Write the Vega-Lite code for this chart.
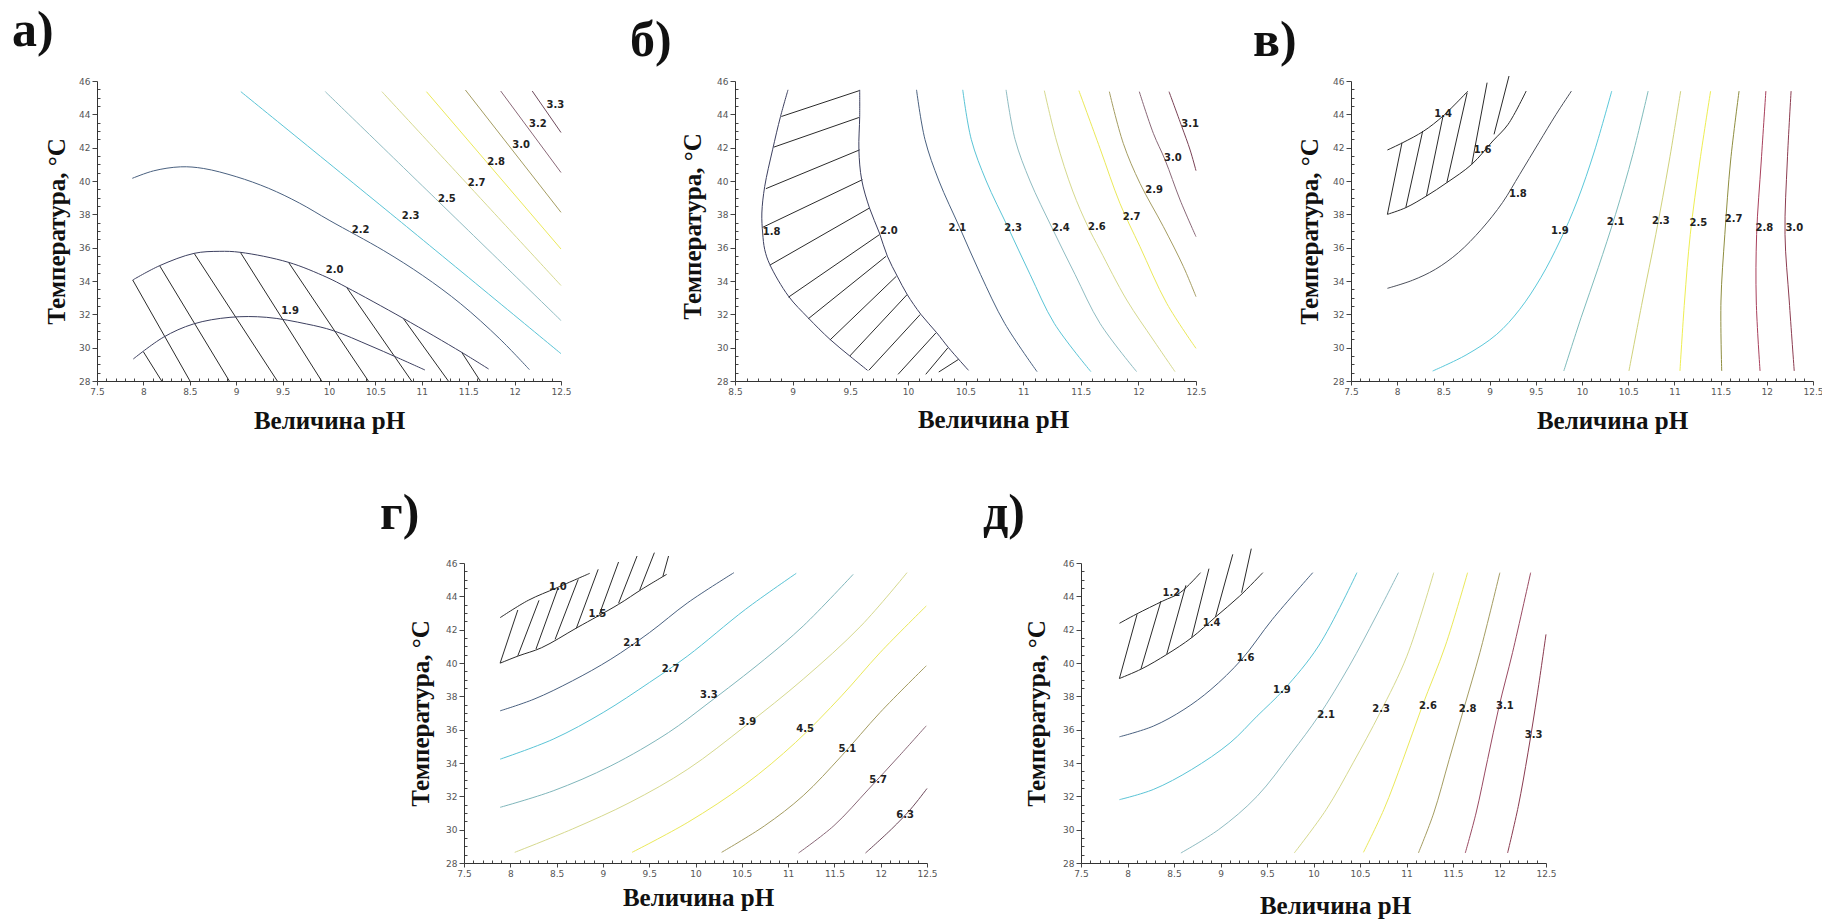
{
"$schema": "https://vega.github.io/schema/vega-lite/v6.json",
"padding": {"left": 12, "top": 6, "right": 5, "bottom": 5},
"background": "white",
"config": {
 "view": {"stroke": null},
 "axis": {"grid": false, "labelFont": "DejaVu Sans", "labelFontSize": 9, "labelColor": "#555", "tickColor": "#444", "domainColor": "#333", "tickWidth": 1, "domainWidth": 1, "labelPadding": 2, "titleFont": "Liberation Serif", "titleFontSize": 25, "titleFontWeight": "bold", "titleColor": "#111"},
 "axisX": {"titleAngle": 0, "titleBaseline": "top", "titleAlign": "center"},
 "axisY": {"titleAngle": -90, "titleBaseline": "bottom", "titleAlign": "center"},
 "title": {"font": "Liberation Serif", "fontSize": 50, "fontWeight": "bold", "color": "#111", "anchor": "start", "frame": "group", "baseline": "alphabetic", "align": "left"},
 "line": {"strokeWidth": 1},
 "text": {"font": "DejaVu Sans", "fontSize": 10, "fontWeight": "bold", "color": "#222", "align": "center", "baseline": "middle"}
},
"datasets": {
 "aH": [
  {"h":1,"o":0,"x":7.999,"y":29.76},{"h":1,"o":1,"x":8.197,"y":28.0},
  {"h":2,"o":0,"x":7.885,"y":34.06},{"h":2,"o":1,"x":8.502,"y":28.0},
  {"h":3,"o":0,"x":8.175,"y":34.92},{"h":3,"o":1,"x":8.926,"y":28.0},
  {"h":4,"o":0,"x":8.547,"y":35.66},{"h":4,"o":1,"x":9.443,"y":28.0},
  {"h":5,"o":0,"x":9.045,"y":35.72},{"h":5,"o":1,"x":9.921,"y":28.0},
  {"h":6,"o":0,"x":9.564,"y":35.12},{"h":6,"o":1,"x":10.424,"y":28.0},
  {"h":7,"o":0,"x":10.19,"y":33.62},{"h":7,"o":1,"x":10.89,"y":28.0},
  {"h":8,"o":0,"x":10.8,"y":31.76},{"h":8,"o":1,"x":11.286,"y":28.0},
  {"h":9,"o":0,"x":11.43,"y":29.72},{"h":9,"o":1,"x":11.63,"y":28.0}
 ],
 "aL": [
  {"id":"1.9","o":0,"x":7.891,"y":29.32},{"id":"1.9","o":1,"x":8.214,"y":30.62},{"id":"1.9","o":2,"x":8.538,"y":31.42},{"id":"1.9","o":3,"x":8.933,"y":31.82},{"id":"1.9","o":4,"x":9.329,"y":31.82},{"id":"1.9","o":5,"x":9.76,"y":31.42},{"id":"1.9","o":6,"x":10.046,"y":31.02},{"id":"1.9","o":7,"x":10.442,"y":30.12},{"id":"1.9","o":8,"x":10.73,"y":29.42},{"id":"1.9","o":9,"x":11.034,"y":28.66},
  {"id":"2.0","o":0,"x":7.885,"y":34.06},{"id":"2.0","o":1,"x":8.175,"y":34.92},{"id":"2.0","o":2,"x":8.547,"y":35.66},{"id":"2.0","o":3,"x":8.817,"y":35.78},{"id":"2.0","o":4,"x":9.045,"y":35.72},{"id":"2.0","o":5,"x":9.564,"y":35.12},{"id":"2.0","o":6,"x":9.977,"y":34.22},{"id":"2.0","o":7,"x":10.19,"y":33.62},{"id":"2.0","o":8,"x":10.8,"y":31.76},{"id":"2.0","o":9,"x":11.43,"y":29.72},{"id":"2.0","o":10,"x":11.72,"y":28.72},
  {"id":"2.2","o":0,"x":7.88,"y":40.16},{"id":"2.2","o":1,"x":8.11,"y":40.61},{"id":"2.2","o":2,"x":8.4,"y":40.85},{"id":"2.2","o":3,"x":8.65,"y":40.75},{"id":"2.2","o":4,"x":9.0,"y":40.26},{"id":"2.2","o":5,"x":9.35,"y":39.56},{"id":"2.2","o":6,"x":9.68,"y":38.68},{"id":"2.2","o":7,"x":10.01,"y":37.62},{"id":"2.2","o":8,"x":10.59,"y":35.82},{"id":"2.2","o":9,"x":11.01,"y":34.33},{"id":"2.2","o":10,"x":11.42,"y":32.63},{"id":"2.2","o":11,"x":11.84,"y":30.53},{"id":"2.2","o":12,"x":12.16,"y":28.68},
  {"id":"2.3","o":0,"x":9.05,"y":45.36},{"id":"2.3","o":1,"x":10.78,"y":37.52},{"id":"2.3","o":2,"x":12.5,"y":29.64},
  {"id":"2.5","o":0,"x":9.96,"y":45.36},{"id":"2.5","o":1,"x":11.23,"y":38.5},{"id":"2.5","o":2,"x":12.5,"y":31.63},
  {"id":"2.7","o":0,"x":10.57,"y":45.36},{"id":"2.7","o":1,"x":11.535,"y":39.55},{"id":"2.7","o":2,"x":12.5,"y":33.73},
  {"id":"2.8","o":0,"x":11.05,"y":45.36},{"id":"2.8","o":1,"x":12.5,"y":35.92},
  {"id":"3.0","o":0,"x":11.47,"y":45.46},{"id":"3.0","o":1,"x":12.5,"y":38.12},
  {"id":"3.2","o":0,"x":11.85,"y":45.4},{"id":"3.2","o":1,"x":12.5,"y":40.51},
  {"id":"3.3","o":0,"x":12.19,"y":45.4},{"id":"3.3","o":1,"x":12.5,"y":42.91}
 ],
 "aT": [
  {"t":"2.2","x":10.34,"y":37.06},{"t":"2.3","x":10.88,"y":37.88},{"t":"2.5","x":11.27,"y":38.92},{"t":"2.7","x":11.59,"y":39.86},{"t":"2.8","x":11.8,"y":41.17},{"t":"3.0","x":12.07,"y":42.17},{"t":"3.2","x":12.25,"y":43.41},{"t":"3.3","x":12.44,"y":44.57},{"t":"2.0","x":10.06,"y":34.69},{"t":"1.9","x":9.58,"y":32.19}
 ],
 "bH": [
  {"h":1,"o":0,"x":8.902,"y":43.87},{"h":1,"o":1,"x":9.582,"y":45.43},
  {"h":2,"o":0,"x":8.836,"y":42.03},{"h":2,"o":1,"x":9.575,"y":43.81},
  {"h":3,"o":0,"x":8.768,"y":39.54},{"h":3,"o":1,"x":9.582,"y":41.87},
  {"h":4,"o":0,"x":8.74,"y":37.22},{"h":4,"o":1,"x":9.606,"y":40.08},
  {"h":5,"o":0,"x":8.802,"y":34.95},{"h":5,"o":1,"x":9.667,"y":38.38},
  {"h":6,"o":0,"x":8.964,"y":33.03},{"h":6,"o":1,"x":9.753,"y":36.78},
  {"h":7,"o":0,"x":9.135,"y":31.73},{"h":7,"o":1,"x":9.812,"y":35.49},
  {"h":8,"o":0,"x":9.324,"y":30.46},{"h":8,"o":1,"x":9.901,"y":34.29},
  {"h":9,"o":0,"x":9.496,"y":29.5},{"h":9,"o":1,"x":9.994,"y":33.19},
  {"h":10,"o":0,"x":9.661,"y":28.64},{"h":10,"o":1,"x":10.107,"y":31.99},
  {"h":11,"o":0,"x":9.915,"y":28.4},{"h":11,"o":1,"x":10.244,"y":30.89},
  {"h":12,"o":0,"x":10.155,"y":28.4},{"h":12,"o":1,"x":10.347,"y":29.99},
  {"h":13,"o":0,"x":10.268,"y":28.54},{"h":13,"o":1,"x":10.44,"y":29.3}
 ],
 "bL": [
  {"id":"1.8","o":0,"x":8.96,"y":45.47},{"id":"1.8","o":1,"x":8.895,"y":43.87},{"id":"1.8","o":2,"x":8.826,"y":41.87},{"id":"1.8","o":3,"x":8.758,"y":39.68},{"id":"1.8","o":4,"x":8.733,"y":38.08},{"id":"1.8","o":5,"x":8.74,"y":36.88},{"id":"1.8","o":6,"x":8.758,"y":35.88},{"id":"1.8","o":7,"x":8.802,"y":34.99},{"id":"1.8","o":8,"x":8.964,"y":33.09},{"id":"1.8","o":9,"x":9.135,"y":31.79},{"id":"1.8","o":10,"x":9.324,"y":30.5},{"id":"1.8","o":11,"x":9.496,"y":29.5},{"id":"1.8","o":12,"x":9.65,"y":28.64},
  {"id":"2.0","o":0,"x":9.582,"y":45.47},{"id":"2.0","o":1,"x":9.582,"y":43.87},{"id":"2.0","o":2,"x":9.575,"y":41.87},{"id":"2.0","o":3,"x":9.599,"y":40.08},{"id":"2.0","o":4,"x":9.667,"y":38.38},{"id":"2.0","o":5,"x":9.753,"y":36.88},{"id":"2.0","o":6,"x":9.822,"y":35.49},{"id":"2.0","o":7,"x":9.908,"y":34.29},{"id":"2.0","o":8,"x":9.994,"y":33.19},{"id":"2.0","o":9,"x":10.114,"y":31.99},{"id":"2.0","o":10,"x":10.251,"y":30.89},{"id":"2.0","o":11,"x":10.354,"y":29.99},{"id":"2.0","o":12,"x":10.526,"y":28.64},
  {"id":"2.1","o":0,"x":10.075,"y":45.47},{"id":"2.1","o":1,"x":10.148,"y":42.5},{"id":"2.1","o":2,"x":10.27,"y":40.0},{"id":"2.1","o":3,"x":10.45,"y":37.2},{"id":"2.1","o":4,"x":10.63,"y":34.4},{"id":"2.1","o":5,"x":10.84,"y":31.46},{"id":"2.1","o":6,"x":11.121,"y":28.56},
  {"id":"2.3","o":0,"x":10.476,"y":45.47},{"id":"2.3","o":1,"x":10.55,"y":42.5},{"id":"2.3","o":2,"x":10.68,"y":40.0},{"id":"2.3","o":3,"x":10.87,"y":37.2},{"id":"2.3","o":4,"x":11.06,"y":34.4},{"id":"2.3","o":5,"x":11.27,"y":31.46},{"id":"2.3","o":6,"x":11.588,"y":28.56},
  {"id":"2.4","o":0,"x":10.852,"y":45.47},{"id":"2.4","o":1,"x":10.93,"y":42.5},{"id":"2.4","o":2,"x":11.06,"y":40.0},{"id":"2.4","o":3,"x":11.25,"y":37.2},{"id":"2.4","o":4,"x":11.45,"y":34.4},{"id":"2.4","o":5,"x":11.667,"y":31.46},{"id":"2.4","o":6,"x":11.985,"y":28.56},
  {"id":"2.6","o":0,"x":11.184,"y":45.42},{"id":"2.6","o":1,"x":11.29,"y":42.4},{"id":"2.6","o":2,"x":11.43,"y":39.4},{"id":"2.6","o":3,"x":11.56,"y":37.3},{"id":"2.6","o":4,"x":11.667,"y":35.86},{"id":"2.6","o":5,"x":11.899,"y":32.86},{"id":"2.6","o":6,"x":12.13,"y":30.46},{"id":"2.6","o":7,"x":12.318,"y":28.56},
  {"id":"2.7","o":0,"x":11.484,"y":45.42},{"id":"2.7","o":1,"x":11.667,"y":41.96},{"id":"2.7","o":2,"x":11.84,"y":38.66},{"id":"2.7","o":3,"x":12.014,"y":36.06},{"id":"2.7","o":4,"x":12.246,"y":32.66},{"id":"2.7","o":5,"x":12.5,"y":29.96},
  {"id":"2.9","o":0,"x":11.748,"y":45.36},{"id":"2.9","o":1,"x":11.869,"y":42.26},{"id":"2.9","o":2,"x":12.014,"y":39.86},{"id":"2.9","o":3,"x":12.217,"y":37.26},{"id":"2.9","o":4,"x":12.391,"y":34.86},{"id":"2.9","o":5,"x":12.5,"y":33.06},
  {"id":"3.0","o":0,"x":12.008,"y":45.36},{"id":"3.0","o":1,"x":12.13,"y":42.86},{"id":"3.0","o":2,"x":12.232,"y":41.26},{"id":"3.0","o":3,"x":12.362,"y":38.86},{"id":"3.0","o":4,"x":12.5,"y":36.66},
  {"id":"3.1","o":0,"x":12.266,"y":45.36},{"id":"3.1","o":1,"x":12.377,"y":43.26},{"id":"3.1","o":2,"x":12.449,"y":41.86},{"id":"3.1","o":3,"x":12.5,"y":40.62}
 ],
 "bT": [
  {"t":"1.8","x":8.818,"y":36.92},{"t":"2.0","x":9.836,"y":37.02},{"t":"2.1","x":10.43,"y":37.16},{"t":"2.3","x":10.914,"y":37.16},{"t":"2.4","x":11.328,"y":37.16},{"t":"2.6","x":11.64,"y":37.26},{"t":"2.7","x":11.942,"y":37.86},{"t":"2.9","x":12.136,"y":39.46},{"t":"3.0","x":12.299,"y":41.36},{"t":"3.1","x":12.449,"y":43.4}
 ],
 "cH": [
  {"h":1,"o":0,"x":7.894,"y":38.0},{"h":1,"o":1,"x":8.052,"y":42.3},
  {"h":2,"o":0,"x":8.093,"y":38.4},{"h":2,"o":1,"x":8.276,"y":43.0},
  {"h":3,"o":0,"x":8.317,"y":39.1},{"h":3,"o":1,"x":8.496,"y":43.9},
  {"h":4,"o":0,"x":8.537,"y":39.9},{"h":4,"o":1,"x":8.757,"y":45.3},
  {"h":5,"o":0,"x":8.807,"y":41.0},{"h":5,"o":1,"x":8.973,"y":45.9},
  {"h":6,"o":0,"x":9.048,"y":42.8},{"h":6,"o":1,"x":9.21,"y":46.3}
 ],
 "cL": [
  {"id":"1.4","o":0,"x":7.894,"y":41.86},{"id":"1.4","o":1,"x":8.06,"y":42.3},{"id":"1.4","o":2,"x":8.288,"y":43.0},{"id":"1.4","o":3,"x":8.496,"y":43.9},{"id":"1.4","o":4,"x":8.766,"y":45.4},
  {"id":"1.6","o":0,"x":7.894,"y":38.0},{"id":"1.6","o":1,"x":8.093,"y":38.4},{"id":"1.6","o":2,"x":8.317,"y":39.1},{"id":"1.6","o":3,"x":8.537,"y":39.9},{"id":"1.6","o":4,"x":8.807,"y":41.0},{"id":"1.6","o":5,"x":9.035,"y":42.4},{"id":"1.6","o":6,"x":9.2,"y":43.4},{"id":"1.6","o":7,"x":9.396,"y":45.4},
  {"id":"1.8","o":0,"x":7.894,"y":33.56},{"id":"1.8","o":1,"x":8.164,"y":34.04},{"id":"1.8","o":2,"x":8.413,"y":34.7},{"id":"1.8","o":3,"x":8.662,"y":35.7},{"id":"1.8","o":4,"x":8.911,"y":37.1},{"id":"1.8","o":5,"x":9.139,"y":38.7},{"id":"1.8","o":6,"x":9.326,"y":40.4},{"id":"1.8","o":7,"x":9.533,"y":42.3},{"id":"1.8","o":8,"x":9.72,"y":44.0},{"id":"1.8","o":9,"x":9.886,"y":45.4},
  {"id":"1.9","o":0,"x":8.384,"y":28.6},{"id":"1.9","o":1,"x":8.745,"y":29.56},{"id":"1.9","o":2,"x":9.077,"y":30.8},{"id":"1.9","o":3,"x":9.326,"y":32.3},{"id":"1.9","o":4,"x":9.554,"y":34.2},{"id":"1.9","o":5,"x":9.761,"y":36.4},{"id":"1.9","o":6,"x":9.948,"y":38.8},{"id":"1.9","o":7,"x":10.135,"y":41.8},{"id":"1.9","o":8,"x":10.322,"y":45.4},
  {"id":"2.1","o":0,"x":9.803,"y":28.6},{"id":"2.1","o":1,"x":9.99,"y":31.8},{"id":"2.1","o":2,"x":10.176,"y":34.8},{"id":"2.1","o":3,"x":10.363,"y":38.0},{"id":"2.1","o":4,"x":10.55,"y":41.6},{"id":"2.1","o":5,"x":10.716,"y":45.4},
  {"id":"2.3","o":0,"x":10.508,"y":28.6},{"id":"2.3","o":1,"x":10.654,"y":32.8},{"id":"2.3","o":2,"x":10.799,"y":36.8},{"id":"2.3","o":3,"x":10.944,"y":41.2},{"id":"2.3","o":4,"x":11.068,"y":45.4},
  {"id":"2.5","o":0,"x":11.06,"y":28.6},{"id":"2.5","o":1,"x":11.11,"y":32.8},{"id":"2.5","o":2,"x":11.172,"y":36.8},{"id":"2.5","o":3,"x":11.276,"y":41.2},{"id":"2.5","o":4,"x":11.392,"y":45.4},
  {"id":"2.7","o":0,"x":11.512,"y":28.6},{"id":"2.7","o":1,"x":11.504,"y":32.8},{"id":"2.7","o":2,"x":11.546,"y":36.8},{"id":"2.7","o":3,"x":11.608,"y":41.2},{"id":"2.7","o":4,"x":11.7,"y":45.4},
  {"id":"2.8","o":0,"x":11.927,"y":28.6},{"id":"2.8","o":1,"x":11.886,"y":32.8},{"id":"2.8","o":2,"x":11.89,"y":36.8},{"id":"2.8","o":3,"x":11.94,"y":41.2},{"id":"2.8","o":4,"x":11.99,"y":45.4},
  {"id":"3.0","o":0,"x":12.297,"y":28.6},{"id":"3.0","o":1,"x":12.243,"y":32.8},{"id":"3.0","o":2,"x":12.197,"y":36.8},{"id":"3.0","o":3,"x":12.222,"y":41.2},{"id":"3.0","o":4,"x":12.263,"y":45.4}
 ],
 "cT": [
  {"t":"1.4","x":8.496,"y":44.0},{"t":"1.6","x":8.923,"y":41.84},{"t":"1.8","x":9.305,"y":39.24},{"t":"1.9","x":9.761,"y":37.0},{"t":"2.1","x":10.363,"y":37.54},{"t":"2.3","x":10.853,"y":37.6},{"t":"2.5","x":11.259,"y":37.5},{"t":"2.7","x":11.641,"y":37.7},{"t":"2.8","x":11.973,"y":37.2},{"t":"3.0","x":12.297,"y":37.2}
 ],
 "dH": [
  {"h":1,"o":0,"x":7.89,"y":39.99},{"h":1,"o":1,"x":8.081,"y":43.18},
  {"h":2,"o":0,"x":8.081,"y":40.43},{"h":2,"o":1,"x":8.31,"y":43.76},
  {"h":3,"o":0,"x":8.277,"y":40.83},{"h":3,"o":1,"x":8.513,"y":44.46},
  {"h":4,"o":0,"x":8.484,"y":41.42},{"h":4,"o":1,"x":8.733,"y":45.02},
  {"h":5,"o":0,"x":8.713,"y":42.08},{"h":5,"o":1,"x":8.949,"y":45.62},
  {"h":6,"o":0,"x":8.962,"y":42.92},{"h":6,"o":1,"x":9.169,"y":46.06},
  {"h":7,"o":0,"x":9.169,"y":43.58},{"h":7,"o":1,"x":9.369,"y":46.42},
  {"h":8,"o":0,"x":9.398,"y":44.38},{"h":8,"o":1,"x":9.556,"y":46.62},
  {"h":9,"o":0,"x":9.647,"y":45.18},{"h":9,"o":1,"x":9.709,"y":46.42}
 ],
 "dL": [
  {"id":"1.0","o":0,"x":7.89,"y":42.72},{"id":"1.0","o":1,"x":8.194,"y":43.76},{"id":"1.0","o":2,"x":8.505,"y":44.52},{"id":"1.0","o":3,"x":8.858,"y":45.38},
  {"id":"1.5","o":0,"x":7.89,"y":39.99},{"id":"1.5","o":1,"x":8.09,"y":40.43},{"id":"1.5","o":2,"x":8.339,"y":40.92},{"id":"1.5","o":3,"x":8.721,"y":42.12},{"id":"1.5","o":4,"x":9.169,"y":43.52},{"id":"1.5","o":5,"x":9.419,"y":44.42},{"id":"1.5","o":6,"x":9.689,"y":45.32},
  {"id":"2.1","o":0,"x":7.89,"y":37.13},{"id":"2.1","o":1,"x":8.256,"y":37.83},{"id":"2.1","o":2,"x":8.671,"y":38.93},{"id":"2.1","o":3,"x":9.086,"y":40.23},{"id":"2.1","o":4,"x":9.502,"y":41.82},{"id":"2.1","o":5,"x":9.917,"y":43.62},{"id":"2.1","o":6,"x":10.415,"y":45.42},
  {"id":"2.7","o":0,"x":7.89,"y":34.23},{"id":"2.7","o":1,"x":8.463,"y":35.43},{"id":"2.7","o":2,"x":9.003,"y":37.03},{"id":"2.7","o":3,"x":9.502,"y":38.83},{"id":"2.7","o":4,"x":9.917,"y":40.43},{"id":"2.7","o":5,"x":10.54,"y":43.22},{"id":"2.7","o":6,"x":11.088,"y":45.38},
  {"id":"3.3","o":0,"x":7.89,"y":31.34},{"id":"3.3","o":1,"x":8.463,"y":32.33},{"id":"3.3","o":2,"x":9.086,"y":33.83},{"id":"3.3","o":3,"x":9.709,"y":35.83},{"id":"3.3","o":4,"x":10.124,"y":37.53},{"id":"3.3","o":5,"x":10.748,"y":40.23},{"id":"3.3","o":6,"x":11.163,"y":42.22},{"id":"3.3","o":7,"x":11.703,"y":45.32},
  {"id":"3.9","o":0,"x":8.048,"y":28.64},{"id":"3.9","o":1,"x":8.671,"y":30.04},{"id":"3.9","o":2,"x":9.294,"y":31.64},{"id":"3.9","o":3,"x":9.917,"y":33.63},{"id":"3.9","o":4,"x":10.54,"y":36.23},{"id":"3.9","o":5,"x":11.163,"y":39.03},{"id":"3.9","o":6,"x":11.786,"y":42.22},{"id":"3.9","o":7,"x":12.284,"y":45.42},
  {"id":"4.5","o":0,"x":9.315,"y":28.64},{"id":"4.5","o":1,"x":9.917,"y":30.44},{"id":"4.5","o":2,"x":10.54,"y":32.73},{"id":"4.5","o":3,"x":11.08,"y":35.23},{"id":"4.5","o":4,"x":11.578,"y":38.03},{"id":"4.5","o":5,"x":11.993,"y":40.62},{"id":"4.5","o":6,"x":12.492,"y":43.42},
  {"id":"5.1","o":0,"x":10.282,"y":28.64},{"id":"5.1","o":1,"x":10.748,"y":30.24},{"id":"5.1","o":2,"x":11.163,"y":32.04},{"id":"5.1","o":3,"x":11.578,"y":34.43},{"id":"5.1","o":4,"x":11.993,"y":37.03},{"id":"5.1","o":5,"x":12.492,"y":39.83},
  {"id":"5.7","o":0,"x":11.113,"y":28.6},{"id":"5.7","o":1,"x":11.495,"y":30.24},{"id":"5.7","o":2,"x":11.869,"y":32.43},{"id":"5.7","o":3,"x":12.201,"y":34.43},{"id":"5.7","o":4,"x":12.492,"y":36.23},
  {"id":"6.3","o":0,"x":11.836,"y":28.6},{"id":"6.3","o":1,"x":12.118,"y":30.04},{"id":"6.3","o":2,"x":12.325,"y":31.24},{"id":"6.3","o":3,"x":12.5,"y":32.47}
 ],
 "dT": [
  {"t":"1.0","x":8.513,"y":44.58},{"t":"1.5","x":8.941,"y":42.92},{"t":"2.1","x":9.315,"y":41.22},{"t":"2.7","x":9.73,"y":39.67},{"t":"3.3","x":10.145,"y":38.07},{"t":"3.9","x":10.561,"y":36.49},{"t":"4.5","x":11.184,"y":36.03},{"t":"5.1","x":11.64,"y":34.87},{"t":"5.7","x":11.973,"y":32.99},{"t":"6.3","x":12.263,"y":30.88}
 ],
 "eH": [
  {"h":1,"o":0,"x":7.913,"y":39.07},{"h":1,"o":1,"x":8.103,"y":42.92},
  {"h":2,"o":0,"x":8.145,"y":39.65},{"h":2,"o":1,"x":8.36,"y":43.72},
  {"h":3,"o":0,"x":8.421,"y":40.51},{"h":3,"o":1,"x":8.628,"y":44.66},
  {"h":4,"o":0,"x":8.69,"y":41.52},{"h":4,"o":1,"x":8.876,"y":45.66},
  {"h":5,"o":0,"x":8.946,"y":42.76},{"h":5,"o":1,"x":9.132,"y":46.52},
  {"h":6,"o":0,"x":9.227,"y":44.22},{"h":6,"o":1,"x":9.331,"y":46.86}
 ],
 "eL": [
  {"id":"1.2","o":0,"x":7.913,"y":42.38},{"id":"1.2","o":1,"x":8.091,"y":42.92},{"id":"1.2","o":2,"x":8.38,"y":43.72},{"id":"1.2","o":3,"x":8.566,"y":44.22},{"id":"1.2","o":4,"x":8.785,"y":45.42},
  {"id":"1.4","o":0,"x":7.913,"y":39.07},{"id":"1.4","o":1,"x":8.153,"y":39.65},{"id":"1.4","o":2,"x":8.421,"y":40.51},{"id":"1.4","o":3,"x":8.69,"y":41.52},{"id":"1.4","o":4,"x":8.946,"y":42.76},{"id":"1.4","o":5,"x":9.207,"y":44.02},{"id":"1.4","o":6,"x":9.455,"y":45.42},
  {"id":"1.6","o":0,"x":7.913,"y":35.57},{"id":"1.6","o":1,"x":8.277,"y":36.21},{"id":"1.6","o":2,"x":8.607,"y":37.21},{"id":"1.6","o":3,"x":8.897,"y":38.41},{"id":"1.6","o":4,"x":9.227,"y":40.21},{"id":"1.6","o":5,"x":9.558,"y":42.62},{"id":"1.6","o":6,"x":9.992,"y":45.42},
  {"id":"1.9","o":0,"x":7.913,"y":31.8},{"id":"1.9","o":1,"x":8.277,"y":32.41},{"id":"1.9","o":2,"x":8.69,"y":33.61},{"id":"1.9","o":3,"x":9.103,"y":35.21},{"id":"1.9","o":4,"x":9.393,"y":36.81},{"id":"1.9","o":5,"x":9.682,"y":38.41},{"id":"1.9","o":6,"x":10.054,"y":41.02},{"id":"1.9","o":7,"x":10.467,"y":45.42},
  {"id":"2.1","o":0,"x":8.574,"y":28.6},{"id":"2.1","o":1,"x":8.979,"y":30.0},{"id":"2.1","o":2,"x":9.393,"y":32.0},{"id":"2.1","o":3,"x":9.764,"y":34.61},{"id":"2.1","o":4,"x":10.054,"y":36.81},{"id":"2.1","o":5,"x":10.384,"y":39.81},{"id":"2.1","o":6,"x":10.674,"y":42.82},{"id":"2.1","o":7,"x":10.913,"y":45.42},
  {"id":"2.3","o":0,"x":9.793,"y":28.6},{"id":"2.3","o":1,"x":10.136,"y":31.2},{"id":"2.3","o":2,"x":10.426,"y":34.01},{"id":"2.3","o":3,"x":10.715,"y":37.01},{"id":"2.3","o":4,"x":11.004,"y":40.41},{"id":"2.3","o":5,"x":11.293,"y":45.42},
  {"id":"2.6","o":0,"x":10.537,"y":28.64},{"id":"2.6","o":1,"x":10.756,"y":31.2},{"id":"2.6","o":2,"x":10.963,"y":34.21},{"id":"2.6","o":3,"x":11.169,"y":37.41},{"id":"2.6","o":4,"x":11.417,"y":41.02},{"id":"2.6","o":5,"x":11.657,"y":45.42},
  {"id":"2.8","o":0,"x":11.128,"y":28.6},{"id":"2.8","o":1,"x":11.293,"y":31.0},{"id":"2.8","o":2,"x":11.459,"y":34.21},{"id":"2.8","o":3,"x":11.624,"y":37.41},{"id":"2.8","o":4,"x":11.789,"y":40.62},{"id":"2.8","o":5,"x":12.004,"y":45.42},
  {"id":"3.1","o":0,"x":11.632,"y":28.6},{"id":"3.1","o":1,"x":11.748,"y":31.0},{"id":"3.1","o":2,"x":11.872,"y":34.21},{"id":"3.1","o":3,"x":11.996,"y":37.41},{"id":"3.1","o":4,"x":12.14,"y":40.62},{"id":"3.1","o":5,"x":12.335,"y":45.42},
  {"id":"3.3","o":0,"x":12.087,"y":28.6},{"id":"3.3","o":1,"x":12.202,"y":31.4},{"id":"3.3","o":2,"x":12.306,"y":34.61},{"id":"3.3","o":3,"x":12.409,"y":38.21},{"id":"3.3","o":4,"x":12.5,"y":41.72}
 ],
 "eT": [
  {"t":"1.2","x":8.471,"y":44.18},{"t":"1.4","x":8.905,"y":42.42},{"t":"1.6","x":9.269,"y":40.31},{"t":"1.9","x":9.661,"y":38.37},{"t":"2.1","x":10.136,"y":36.91},{"t":"2.3","x":10.727,"y":37.25},{"t":"2.6","x":11.231,"y":37.41},{"t":"2.8","x":11.657,"y":37.25},{"t":"3.1","x":12.058,"y":37.41},{"t":"3.3","x":12.368,"y":35.71}
 ]
},
"vconcat": [
 {"hconcat": [
  {"width": 464, "height": 300,
   "title": {"text": "а)", "dx": -85, "offset": 21},
   "encoding": {
    "x": {"field": "x", "type": "quantitative", "scale": {"domain": [7.5, 12.5], "nice": false, "zero": false},
      "axis": {"values": [7.5,7.6,7.7,7.8,7.9,8,8.1,8.2,8.3,8.4,8.5,8.6,8.7,8.8,8.9,9,9.1,9.2,9.3,9.4,9.5,9.6,9.7,9.8,9.9,10,10.1,10.2,10.3,10.4,10.5,10.6,10.7,10.8,10.9,11,11.1,11.2,11.3,11.4,11.5,11.6,11.7,11.8,11.9,12,12.1,12.2,12.3,12.4,12.5], "format": "~g", "labelFlush": false, "labelOverlap": false, "labelExpr": "abs(datum.value*2-round(datum.value*2))<0.01 ? datum.label : ''", "tickSize": {"condition": {"test": "abs(datum.value*2-round(datum.value*2))<0.01", "value": 4}, "value": -3}, "title": "Величина pH", "titleX": 232, "titleY": 27}},
    "y": {"field": "y", "type": "quantitative", "scale": {"domain": [28, 46], "nice": false, "zero": false},
      "axis": {"values": [28,28.5,29,29.5,30,30.5,31,31.5,32,32.5,33,33.5,34,34.5,35,35.5,36,36.5,37,37.5,38,38.5,39,39.5,40,40.5,41,41.5,42,42.5,43,43.5,44,44.5,45,45.5,46], "format": "~g", "labelFlush": false, "labelOverlap": false, "labelExpr": "datum.value % 2 == 0 ? datum.label : ''", "tickSize": {"condition": {"test": "datum.value % 2 == 0", "value": 5}, "value": -3}, "title": "Температура, °C", "titleX": -28, "titleY": 150}}
   },
   "layer": [
    {"data": {"name": "aH"}, "mark": {"type": "line", "color": "#2b2b2b"}, "encoding": {"detail": {"field": "h"}, "order": {"field": "o"}}},
    {"data": {"name": "aL"}, "mark": {"type": "line", "interpolate": "catmull-rom"}, "encoding": {"color": {"field": "id", "type": "nominal", "legend": null, "scale": {"domain": ["1.9","2.0","2.2","2.3","2.5","2.7","2.8","3.0","3.2","3.3"], "range": ["#3d4060","#3d4060","#4a6180","#5ac4d6","#8fbcc2","#d6d98e","#ebe95a","#a59d62","#8a6878","#6e4a5c"]}}, "order": {"field": "o"}}},
    {"data": {"name": "aT"}, "mark": {"type": "text"}, "encoding": {"text": {"field": "t"}}}
   ]
  },
  {"hconcat": [
   {"width": 461, "height": 300,
    "title": {"text": "б)", "dx": -105, "offset": 11},
    "encoding": {
     "x": {"field": "x", "type": "quantitative", "scale": {"domain": [8.5, 12.5], "nice": false, "zero": false},
       "axis": {"values": [8.5,8.6,8.7,8.8,8.9,9,9.1,9.2,9.3,9.4,9.5,9.6,9.7,9.8,9.9,10,10.1,10.2,10.3,10.4,10.5,10.6,10.7,10.8,10.9,11,11.1,11.2,11.3,11.4,11.5,11.6,11.7,11.8,11.9,12,12.1,12.2,12.3,12.4,12.5], "format": "~g", "labelFlush": false, "labelOverlap": false, "labelExpr": "abs(datum.value*2-round(datum.value*2))<0.01 ? datum.label : ''", "tickSize": {"condition": {"test": "abs(datum.value*2-round(datum.value*2))<0.01", "value": 4}, "value": -3}, "title": "Величина pH", "titleX": 258, "titleY": 26}},
     "y": {"field": "y", "type": "quantitative", "scale": {"domain": [28, 46], "nice": false, "zero": false},
       "axis": {"values": [28,28.5,29,29.5,30,30.5,31,31.5,32,32.5,33,33.5,34,34.5,35,35.5,36,36.5,37,37.5,38,38.5,39,39.5,40,40.5,41,41.5,42,42.5,43,43.5,44,44.5,45,45.5,46], "format": "~g", "labelFlush": false, "labelOverlap": false, "labelExpr": "datum.value % 2 == 0 ? datum.label : ''", "tickSize": {"condition": {"test": "datum.value % 2 == 0", "value": 5}, "value": -3}, "title": "Температура, °C", "titleX": -30, "titleY": 145}}
    },
    "layer": [
     {"data": {"name": "bH"}, "mark": {"type": "line", "color": "#2b2b2b"}, "encoding": {"detail": {"field": "h"}, "order": {"field": "o"}}},
     {"data": {"name": "bL"}, "mark": {"type": "line", "interpolate": "catmull-rom"}, "encoding": {"color": {"field": "id", "type": "nominal", "legend": null, "scale": {"domain": ["1.8","2.0","2.1","2.3","2.4","2.6","2.7","2.9","3.0","3.1"], "range": ["#3d4060","#3d4060","#4a6180","#5ac4d6","#8fbcc2","#d6d98e","#ebe95a","#a59d62","#8a6878","#7a4256"]}}, "order": {"field": "o"}}},
     {"data": {"name": "bT"}, "mark": {"type": "text"}, "encoding": {"text": {"field": "t"}}}
    ]
   },
   {"width": 462, "height": 300,
    "title": {"text": "в)", "dx": -98, "offset": 8},
    "encoding": {
     "x": {"field": "x", "type": "quantitative", "scale": {"domain": [7.5, 12.5], "nice": false, "zero": false},
       "axis": {"values": [7.5,7.6,7.7,7.8,7.9,8,8.1,8.2,8.3,8.4,8.5,8.6,8.7,8.8,8.9,9,9.1,9.2,9.3,9.4,9.5,9.6,9.7,9.8,9.9,10,10.1,10.2,10.3,10.4,10.5,10.6,10.7,10.8,10.9,11,11.1,11.2,11.3,11.4,11.5,11.6,11.7,11.8,11.9,12,12.1,12.2,12.3,12.4,12.5], "format": "~g", "labelFlush": false, "labelOverlap": false, "labelExpr": "abs(datum.value*2-round(datum.value*2))<0.01 ? datum.label : ''", "tickSize": {"condition": {"test": "abs(datum.value*2-round(datum.value*2))<0.01", "value": 4}, "value": -3}, "title": "Величина pH", "titleX": 261, "titleY": 27}},
     "y": {"field": "y", "type": "quantitative", "scale": {"domain": [28, 46], "nice": false, "zero": false},
       "axis": {"values": [28,28.5,29,29.5,30,30.5,31,31.5,32,32.5,33,33.5,34,34.5,35,35.5,36,36.5,37,37.5,38,38.5,39,39.5,40,40.5,41,41.5,42,42.5,43,43.5,44,44.5,45,45.5,46], "format": "~g", "labelFlush": false, "labelOverlap": false, "labelExpr": "datum.value % 2 == 0 ? datum.label : ''", "tickSize": {"condition": {"test": "datum.value % 2 == 0", "value": 5}, "value": -3}, "title": "Температура, °C", "titleX": -29, "titleY": 150}}
    },
    "layer": [
     {"data": {"name": "cH"}, "mark": {"type": "line", "color": "#2b2b2b"}, "encoding": {"detail": {"field": "h"}, "order": {"field": "o"}}},
     {"data": {"name": "cL"}, "mark": {"type": "line", "interpolate": "catmull-rom"}, "encoding": {"color": {"field": "id", "type": "nominal", "legend": null, "scale": {"domain": ["1.4","1.6","1.8","1.9","2.1","2.3","2.5","2.7","2.8","3.0"], "range": ["#2b2b2b","#2b2b2b","#4b4f5a","#5ac8da","#7fbcbc","#d0d27c","#eeee52","#8f8e40","#a8405c","#8c3c50"]}}, "order": {"field": "o"}}},
     {"data": {"name": "cT"}, "mark": {"type": "text"}, "encoding": {"text": {"field": "t"}}}
    ]
   }
  ], "spacing": 155, "bounds": "flush", "resolve": {"scale": {"color": "independent"}}}
 ], "spacing": 174, "bounds": "flush", "resolve": {"scale": {"color": "independent"}}},
 {"hconcat": [
  {"width": 213, "height": 300, "data": {"values": []}, "mark": {"type": "point", "opacity": 0}, "encoding": {}},
  {"width": 463, "height": 300,
   "title": {"text": "г)", "dx": -84, "offset": 12},
   "encoding": {
    "x": {"field": "x", "type": "quantitative", "scale": {"domain": [7.5, 12.5], "nice": false, "zero": false},
      "axis": {"values": [7.5,7.6,7.7,7.8,7.9,8,8.1,8.2,8.3,8.4,8.5,8.6,8.7,8.8,8.9,9,9.1,9.2,9.3,9.4,9.5,9.6,9.7,9.8,9.9,10,10.1,10.2,10.3,10.4,10.5,10.6,10.7,10.8,10.9,11,11.1,11.2,11.3,11.4,11.5,11.6,11.7,11.8,11.9,12,12.1,12.2,12.3,12.4,12.5], "format": "~g", "labelFlush": false, "labelOverlap": false, "labelExpr": "abs(datum.value*2-round(datum.value*2))<0.01 ? datum.label : ''", "tickSize": {"condition": {"test": "abs(datum.value*2-round(datum.value*2))<0.01", "value": 4}, "value": -3}, "title": "Величина pH", "titleX": 234, "titleY": 22}},
    "y": {"field": "y", "type": "quantitative", "scale": {"domain": [28, 46], "nice": false, "zero": false},
      "axis": {"values": [28,28.5,29,29.5,30,30.5,31,31.5,32,32.5,33,33.5,34,34.5,35,35.5,36,36.5,37,37.5,38,38.5,39,39.5,40,40.5,41,41.5,42,42.5,43,43.5,44,44.5,45,45.5,46], "format": "~g", "labelFlush": false, "labelOverlap": false, "labelExpr": "datum.value % 2 == 0 ? datum.label : ''", "tickSize": {"condition": {"test": "datum.value % 2 == 0", "value": 5}, "value": -3}, "title": "Температура, °C", "titleX": -31, "titleY": 150}}
   },
   "layer": [
    {"data": {"name": "dH"}, "mark": {"type": "line", "color": "#2b2b2b"}, "encoding": {"detail": {"field": "h"}, "order": {"field": "o"}}},
    {"data": {"name": "dL"}, "mark": {"type": "line", "interpolate": "catmull-rom"}, "encoding": {"color": {"field": "id", "type": "nominal", "legend": null, "scale": {"domain": ["1.0","1.5","2.1","2.7","3.3","3.9","4.5","5.1","5.7","6.3"], "range": ["#2b2b2b","#2b2b2b","#4a6180","#5ac4d6","#7fb6bb","#d6d98e","#ebe95a","#a59d62","#8a6878","#6e4a5c"]}}, "order": {"field": "o"}}},
    {"data": {"name": "dT"}, "mark": {"type": "text"}, "encoding": {"text": {"field": "t"}}}
   ]
  },
  {"width": 465, "height": 300,
   "title": {"text": "д)", "dx": -98, "offset": 8},
   "encoding": {
    "x": {"field": "x", "type": "quantitative", "scale": {"domain": [7.5, 12.5], "nice": false, "zero": false},
      "axis": {"values": [7.5,7.6,7.7,7.8,7.9,8,8.1,8.2,8.3,8.4,8.5,8.6,8.7,8.8,8.9,9,9.1,9.2,9.3,9.4,9.5,9.6,9.7,9.8,9.9,10,10.1,10.2,10.3,10.4,10.5,10.6,10.7,10.8,10.9,11,11.1,11.2,11.3,11.4,11.5,11.6,11.7,11.8,11.9,12,12.1,12.2,12.3,12.4,12.5], "format": "~g", "labelFlush": false, "labelOverlap": false, "labelExpr": "abs(datum.value*2-round(datum.value*2))<0.01 ? datum.label : ''", "tickSize": {"condition": {"test": "abs(datum.value*2-round(datum.value*2))<0.01", "value": 4}, "value": -3}, "title": "Величина pH", "titleX": 254, "titleY": 30}},
    "y": {"field": "y", "type": "quantitative", "scale": {"domain": [28, 46], "nice": false, "zero": false},
      "axis": {"values": [28,28.5,29,29.5,30,30.5,31,31.5,32,32.5,33,33.5,34,34.5,35,35.5,36,36.5,37,37.5,38,38.5,39,39.5,40,40.5,41,41.5,42,42.5,43,43.5,44,44.5,45,45.5,46], "format": "~g", "labelFlush": false, "labelOverlap": false, "labelExpr": "datum.value % 2 == 0 ? datum.label : ''", "tickSize": {"condition": {"test": "datum.value % 2 == 0", "value": 5}, "value": -3}, "title": "Температура, °C", "titleX": -32, "titleY": 150}}
   },
   "layer": [
    {"data": {"name": "eH"}, "mark": {"type": "line", "color": "#2b2b2b"}, "encoding": {"detail": {"field": "h"}, "order": {"field": "o"}}},
    {"data": {"name": "eL"}, "mark": {"type": "line", "interpolate": "catmull-rom"}, "encoding": {"color": {"field": "id", "type": "nominal", "legend": null, "scale": {"domain": ["1.2","1.4","1.6","1.9","2.1","2.3","2.6","2.8","3.1","3.3"], "range": ["#2b2b2b","#2b2b2b","#4a6180","#5ac4d6","#8fbcc2","#d6d98e","#ebe95a","#a59d62","#9a4a62","#8a3b50"]}}, "order": {"field": "o"}}},
    {"data": {"name": "eT"}, "mark": {"type": "text"}, "encoding": {"text": {"field": "t"}}}
   ]
  }
 ], "spacing": 154, "bounds": "flush", "resolve": {"scale": {"color": "independent"}}}
],
"spacing": 482,
"bounds": "flush",
"resolve": {"scale": {"color": "independent"}}
}
